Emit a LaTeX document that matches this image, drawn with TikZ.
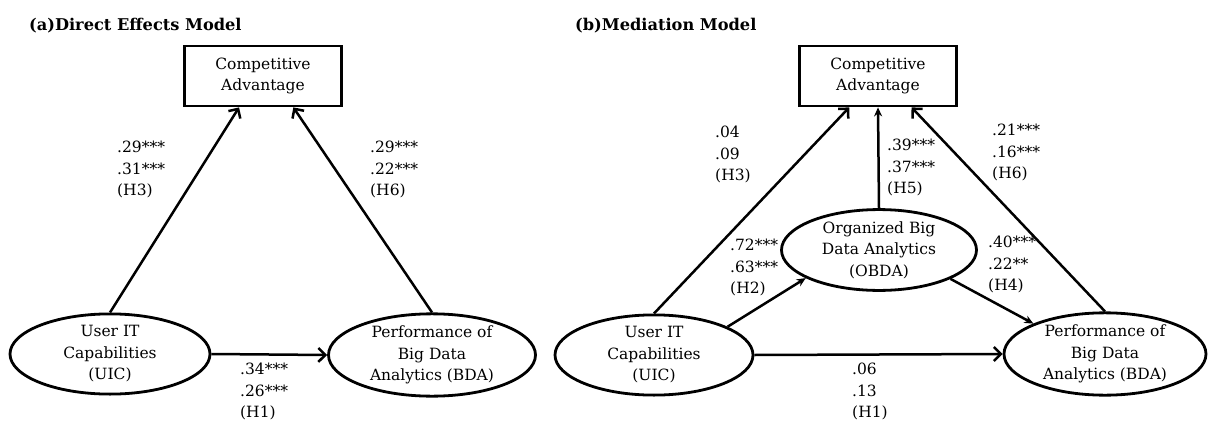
\documentclass[tikz,border=0pt]{standalone}
\usepackage{fontspec}
\setmainfont{DejaVu Serif}
\usetikzlibrary{shapes.geometric,arrows.meta,calc}
\begin{document}
\begin{tikzpicture}[x=1pt,y=-1pt,
  txt/.style={font=\fontsize{15.5}{21.5}\selectfont},
  ell/.style={ellipse,draw,line width=2.8pt,inner sep=0pt,txt,align=center},
  cabox/.style={rectangle,draw,line width=2.8pt,inner sep=0pt,minimum width=157pt,minimum height=60pt,txt,align=center},
  lbl/.style={txt,align=left,anchor=north west,inner sep=0pt},
  ttl/.style={font=\fontsize{16.2}{18}\selectfont\bfseries,anchor=base west,inner sep=0pt},
  bigarr/.style={line width=2.5pt,-{Straight Barb[length=7pt,width=14pt,line width=2.5pt]}},
  smallarr/.style={line width=2.5pt,-{Stealth[length=9pt,width=8pt]}}]
\useasboundingbox (0,0) rectangle (1208,423);
% Panel (a)
\node[ttl] (ta) at (29,30) {(a)Direct Effects Model};
\node[cabox] (caA) at (263,76) {Competitive\\Advantage};
\node[ell,minimum width=200pt,minimum height=80pt] (uicA) at (110,354) {User IT\\Capabilities\\(UIC)};
\node[ell,minimum width=207pt,minimum height=80pt] (bdaA) at (432,355) {Performance of\\Big Data\\Analytics (BDA)};
\draw[bigarr] (uicA.north) -- ($(caA.south west)!0.35!(caA.south east)$);
\draw[bigarr] (bdaA.north) -- ($(caA.south west)!0.69!(caA.south east)$);
\draw[bigarr] (uicA.east) -- (bdaA.west);
\node[lbl] (la3) at (117,141) {.29***\\.31***\\(H3)};
\node[lbl] (la6) at (370,141) {.29***\\.22***\\(H6)};
\node[lbl] (la1) at (240,363) {.34***\\.26***\\(H1)};
% Panel (b)
\node[ttl] (tb) at (575,30) {(b)Mediation Model};
\node[cabox] (caB) at (878,76) {Competitive\\Advantage};
\node[ell,minimum width=195pt,minimum height=80pt] (obdaB) at (879,250) {Organized Big\\Data Analytics\\(OBDA)};
\node[ell,minimum width=198pt,minimum height=80pt] (uicB) at (654,355) {User IT\\Capabilities\\(UIC)};
\node[ell,minimum width=202pt,minimum height=80pt] (bdaB) at (1105,354) {Performance of\\Big Data\\Analytics (BDA)};
\draw[bigarr] (uicB.north) -- ($(caB.south west)!0.32!(caB.south east)$);
\draw[bigarr] (bdaB.north) -- ($(caB.south west)!0.71!(caB.south east)$);
\draw[bigarr] (uicB.east) -- (bdaB.west);
\draw[smallarr] (obdaB.north) -- (caB.south);
\draw[smallarr] (uicB.21) -- (obdaB.201);
\draw[smallarr] (obdaB.-22) -- (bdaB.157);
\node[lbl] (lb3) at (715,126) {.04\\.09\\(H3)};
\node[lbl] (lb2) at (730,239) {.72***\\.63***\\(H2)};
\node[lbl] (lb5) at (887,139) {.39***\\.37***\\(H5)};
\node[lbl] (lb6) at (992,124) {.21***\\.16***\\(H6)};
\node[lbl] (lb4) at (988,236) {.40***\\.22**\\(H4)};
\node[lbl] (lb1) at (852,363) {.06\\.13\\(H1)};
\end{tikzpicture}
\end{document}
